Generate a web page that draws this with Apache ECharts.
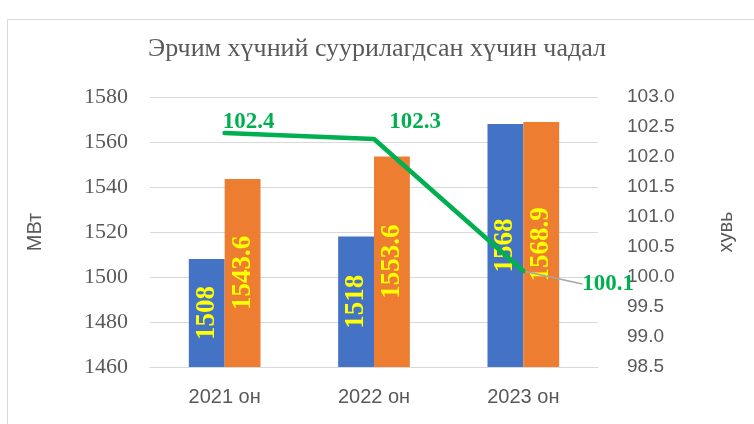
<!DOCTYPE html>
<html lang="mn">
<head>
    <meta charset="UTF-8">
    <title>Эрчим хүч</title>
    <script type="text/javascript" src="https://cdn.jsdelivr.net/npm/echarts@6/dist/echarts.min.js"></script>
    <style>
        html, body { margin: 0; padding: 0; background: #fff; }
        #chart1 { width: 754px; height: 424px; }
    </style>
</head>
<body>
<div id="chart1"></div>
<script type="text/javascript">
    // өгөгдөл
    var years = ['2021 он', '2022 он', '2023 он'];
    var blueVals = [1508, 1518, 1568];
    var orangeVals = [1543.6, 1553.6, 1568.9];
    var pctVals = [102.4, 102.3, 100.1];

    var serif = '"Liberation Serif", "Times New Roman", serif';
    var sans = '"Liberation Sans", Arial, sans-serif';
    var grey = '#595959';

    // шугамын шошгын шилжилт
    var labelShift = [[24, 8], [41, 2], [52, 13]];
    var lineData = pctVals.map(function (v, i) {
        var d = {value: v};
        if (i === 2) {
            d.label = {position: 'right'};
            d.labelLine = {show: true, lineStyle: {color: '#a6a6a6', width: 1.5}};
        }
        return d;
    });

    var barLabel = {
        show: true,
        position: 'inside',
        rotate: 90,
        color: '#FFFF00',
        fontFamily: serif,
        fontWeight: 'bold',
        fontSize: 27
    };

    var myChart = echarts.init(document.getElementById('chart1'));
    var option = {
        animation: false,
        title: {
            text: 'Эрчим хүчний суурилагдсан хүчин чадал',
            left: 'center',
            top: 31,
            textStyle: {fontFamily: serif, fontWeight: 'normal', fontSize: 26, color: grey}
        },
        graphic: [{
            type: 'rect',
            shape: {x: 7.5, y: 19.5, width: 760, height: 420},
            style: {fill: 'none', stroke: '#d9d9d9', lineWidth: 1},
            silent: true
        }],
        grid: {left: 150, right: 156, top: 97, bottom: 57},
        xAxis: {
            type: 'category',
            data: years,
            axisTick: {show: false},
            axisLine: {lineStyle: {color: '#d9d9d9', width: 1}},
            axisLabel: {fontFamily: sans, fontSize: 20, color: grey, margin: 20}
        },
        yAxis: [
            {
                type: 'value',
                min: 1460,
                max: 1580,
                interval: 20,
                name: 'МВт',
                nameLocation: 'middle',
                nameGap: 105,
                nameTextStyle: {fontFamily: sans, fontSize: 20, color: grey},
                axisLabel: {
                    fontFamily: serif, fontSize: 22, color: grey, margin: 22,
                    formatter: function (v) { return String(v); }
                },
                splitLine: {lineStyle: {color: '#d9d9d9', width: 1}}
            },
            {
                type: 'value',
                min: 98.5,
                max: 103,
                interval: 0.5,
                name: 'хувь',
                nameLocation: 'middle',
                nameGap: 118,
                nameRotate: 90,
                nameTextStyle: {fontFamily: sans, fontSize: 20, color: grey},
                axisLabel: {
                    fontFamily: sans, fontSize: 19, color: grey, margin: 29,
                    formatter: function (v) { return v.toFixed(1); }
                },
                splitLine: {show: false}
            }
        ],
        series: [
            {
                name: 'blue',
                type: 'bar',
                data: blueVals,
                barGap: 0,
                barCategoryGap: '52%',
                itemStyle: {color: '#4472C4'},
                label: barLabel
            },
            {
                name: 'orange',
                type: 'bar',
                data: orangeVals,
                itemStyle: {color: '#ED7D31'},
                label: barLabel
            },
            {
                name: 'pct',
                type: 'line',
                yAxisIndex: 1,
                data: lineData,
                symbol: 'circle',
                symbolSize: 4,
                showSymbol: true,
                itemStyle: {color: '#00B050'},
                lineStyle: {color: '#00B050', width: 4.5, cap: 'round'},
                label: {
                    show: true,
                    position: 'top',
                    color: '#00B050',
                    fontFamily: serif,
                    fontWeight: 'bold',
                    fontSize: 23
                },
                labelLayout: function (params) {
                    var s = labelShift[params.dataIndex];
                    return {dx: s[0], dy: s[1], hideOverlap: false};
                },
                z: 5
            }
        ]
    };
    myChart.setOption(option);
</script>
</body>
</html>
